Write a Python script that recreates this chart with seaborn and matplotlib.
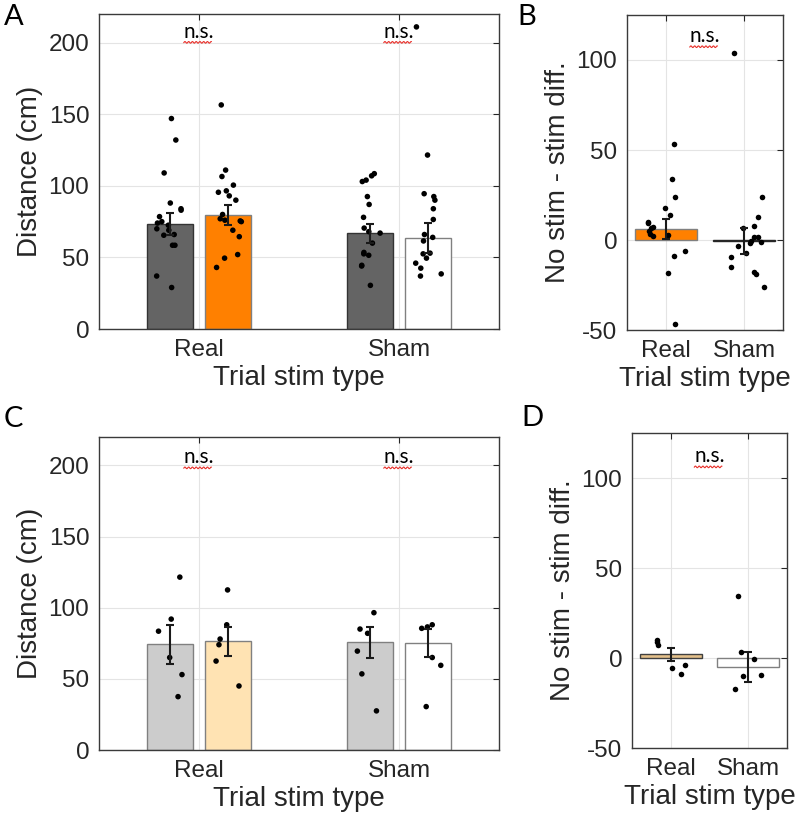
import numpy as np
import pandas as pd
import matplotlib
matplotlib.use('Agg')
import matplotlib.pyplot as plt
import matplotlib.transforms as mtransforms
import seaborn as sns

sns.set_style('white')
plt.rcParams['font.family'] = ['Liberation Sans', 'DejaVu Sans']
plt.rcParams['axes.unicode_minus'] = False

stim_types = ['Real', 'Sham']
conditions = ['No stim', 'Stim']

# A: distance per animal, all sessions
a_real_nostim = [147, 132, 109, 88, 84, 83, 78.5, 75, 74, 72.5, 70, 69, 66, 65.5, 58.5, 58.5, 37, 29]
a_real_stim = [156.5, 111, 106.5, 100.5, 96.5, 95.5, 93, 90, 80, 77, 76, 75.5, 75, 69, 64.5, 52, 49.5, 43]
a_sham_nostim = [108.5, 107, 104, 103, 92.5, 87, 78, 70.5, 68, 67, 60, 53.5, 52.5, 51.5, 44.5, 44, 30.5]
a_sham_stim = [211, 121.5, 94.5, 92.5, 90, 84, 76.5, 66, 64, 61.5, 53, 52.5, 49.5, 46, 42.5, 38.5, 37]
a_mean_nostim = [73.4, 66.9]
a_mean_stim = [79.7, 63.4]
a_sem_nostim = [7.6, 6.5]
a_sem_stim = [7.0, 10.6]

# B: no stim - stim difference
b_real = [53.5, 34, 24, 18, 14, 10, 9.5, 7.5, 6.5, 5, 3.5, 3, 2, -6, -9, -18.5, -46.5]
b_sham = [104, 24, 13, 8, 6.5, 1.5, 1.5, -0.5, -1, -1.5, -3.5, -7, -9.5, -15, -17.5, -19, -26]
b_mean = [6.1, -0.6]
b_sem = [5.5, 7.2]

# C: distance, subset
c_real_nostim = [121.5, 92, 83.5, 65, 53, 37.5]
c_real_stim = [112.5, 88, 78, 74, 62.5, 45]
c_sham_nostim = [96.5, 85, 82, 69.5, 53.5, 27.5]
c_sham_stim = [88, 86.5, 85.5, 65, 59.5, 30.5]
c_mean_nostim = [74.2, 75.6]
c_mean_stim = [76.3, 75.1]
c_sem_nostim = [13.6, 11.0]
c_sem_stim = [10.2, 10.0]

# D: difference, subset
d_real = [10, 9, 7.5, -4, -5.5, -9]
d_sham = [34.5, 3.5, -0.5, -9.5, -10, -17]
d_mean = [2.0, -5.0]
d_sem = [3.5, 8.4]

DARK = '#262626'


def style_axes(ax, ylim, yticks, ylabel):
    ax.set_xlim(-0.5, 1.5)
    ax.set_ylim(*ylim)
    ax.set_yticks(yticks)
    ax.grid(True, color='#e4e4e4', linewidth=0.8)
    ax.set_axisbelow(True)
    for s in ax.spines.values():
        s.set_visible(True)
        s.set_color('#3a3a3a')
        s.set_linewidth(1.0)
    ax.tick_params(direction='in', length=4, width=0.8, top=True, right=True,
                   labelsize=17.5, colors=DARK, pad=7)
    ax.set_xlabel('Trial stim type', fontsize=20, color=DARK, labelpad=3)
    ax.set_ylabel(ylabel, fontsize=20, color=DARK, labelpad=4)


def add_ns(ax, x, y):
    ax.text(x, y, 'n.s.', ha='center', va='baseline', fontsize=15,
            family=['Lato', 'DejaVu Sans'], color='black', zorder=6)
    fig = ax.figure
    px, py = ax.transData.transform((x, y))
    tr = mtransforms.Affine2D().scale(fig.dpi / 72.0).translate(px, py)
    wx = np.linspace(-11, 9, 60)
    wy = -3.4 + 0.6 * np.sin(wx * 2 * np.pi / 2.7)
    ax.plot(wx, wy, transform=tr, color='#e8302a', lw=0.8, clip_on=False)


def grouped_panel(ax, pts, means, sems, faces, edges):
    bars = pd.DataFrame({'type': stim_types * 2,
                         'cond': [conditions[0]] * 2 + [conditions[1]] * 2,
                         'val': means[0] + means[1]})
    sns.barplot(data=bars, x='type', y='val', hue='cond', order=stim_types,
                hue_order=conditions, width=0.58, gap=0.19, errorbar=None,
                legend=False, linewidth=1, ax=ax)
    bar_conts = list(ax.containers)
    for i, cont in enumerate(bar_conts):
        for j, bar in enumerate(cont):
            bar.set_facecolor(faces[i][j])
            bar.set_edgecolor(edges[i][j])
            xc = bar.get_x() + bar.get_width() / 2
            ax.errorbar(xc, means[i][j], yerr=sems[i][j], color='#1a1a1a',
                        lw=1.5, capsize=3, capthick=1.5, zorder=5)
    n0 = len(ax.collections)
    sns.stripplot(data=pts, x='type', y='val', hue='cond', order=stim_types,
                  hue_order=conditions, dodge=True, jitter=0.14,
                  palette=['black', 'black'], size=4, legend=False, ax=ax, zorder=4)
    # pull the dodged dots in to the narrower bar positions
    for coll in ax.collections[n0:]:
        off = np.asarray(coll.get_offsets()).copy()
        if len(off) == 0:
            continue
        d = off[:, 0] - np.round(off[:, 0])
        off[:, 0] = off[:, 0] - 0.055 * np.sign(d)
        coll.set_offsets(off)


def diff_panel(ax, real_pts, sham_pts, means, sems, faces, edges, jit):
    bars = pd.DataFrame({'type': stim_types, 'val': means})
    sns.barplot(data=bars, x='type', y='val', order=stim_types, width=0.8,
                errorbar=None, linewidth=1, ax=ax)
    bar_cont = list(ax.containers[0])
    for j, bar in enumerate(bar_cont):
        bar.set_facecolor(faces[j])
        bar.set_edgecolor(edges[j])
        xc = bar.get_x() + bar.get_width() / 2
        ax.errorbar(xc, means[j], yerr=sems[j], color='#1a1a1a',
                    lw=1.5, capsize=3, capthick=1.5, zorder=5)
    pts = pd.DataFrame({'type': ['Real'] * len(real_pts) + ['Sham'] * len(sham_pts),
                        'val': real_pts + sham_pts})
    sns.stripplot(data=pts, x='type', y='val', order=stim_types, jitter=jit,
                  color='black', size=4, ax=ax, zorder=4)


def long_points(rn, rs, sn, ss):
    rows = []
    for typ, cond, vals in [('Real', 'No stim', rn), ('Real', 'Stim', rs),
                            ('Sham', 'No stim', sn), ('Sham', 'Stim', ss)]:
        rows += [(typ, cond, v) for v in vals]
    return pd.DataFrame(rows, columns=['type', 'cond', 'val'])


np.random.seed(3)
fig = plt.figure(figsize=(8, 8.24), dpi=100)
axA = fig.add_axes([0.12375, 0.6007, 0.5, 0.3823])
axB = fig.add_axes([0.78375, 0.5995, 0.195, 0.3823])
axC = fig.add_axes([0.12375, 0.0898, 0.5, 0.3799])
axD = fig.add_axes([0.79, 0.0922, 0.19375, 0.3823])

grouped_panel(axA, long_points(a_real_nostim, a_real_stim, a_sham_nostim, a_sham_stim),
              [a_mean_nostim, a_mean_stim], [a_sem_nostim, a_sem_stim],
              [['#646464', '#646464'], ['#ff8000', '#ffffff']],
              [['#333333', '#333333'], ['#808080', '#808080']])
style_axes(axA, (0, 220), [0, 50, 100, 150, 200], 'Distance (cm)')
add_ns(axA, 0, 203.5)
add_ns(axA, 1, 203.5)

diff_panel(axB, b_real, b_sham, b_mean, b_sem,
           ['#ff8000', '#ffffff'], ['#808080', '#262626'], 0.27)
style_axes(axB, (-50, 125), [-50, 0, 50, 100], 'No stim - stim diff.')
add_ns(axB, 0.5, 110)

grouped_panel(axC, long_points(c_real_nostim, c_real_stim, c_sham_nostim, c_sham_stim),
              [c_mean_nostim, c_mean_stim], [c_sem_nostim, c_sem_stim],
              [['#cccccc', '#cccccc'], ['#ffe3b3', '#ffffff']],
              [['#808080', '#808080'], ['#808080', '#808080']])
style_axes(axC, (0, 220), [0, 50, 100, 150, 200], 'Distance (cm)')
add_ns(axC, 0, 201.6)
add_ns(axC, 1, 201.6)

diff_panel(axD, d_real, d_sham, d_mean, d_sem,
           ['#e3c08a', '#ffffff'], ['#404040', '#808080'], 0.2)
style_axes(axD, (-50, 125), [-50, 0, 50, 100], 'No stim - stim diff.')
add_ns(axD, 0.5, 108.8)

for label, x, y in [('A', 0.005, 0.995), ('B', 0.647, 0.995),
                    ('C', 0.005, 0.507), ('D', 0.652, 0.509)]:
    fig.text(x, y, label, fontsize=21, family=['Lato', 'DejaVu Sans'],
             color='black', va='top', ha='left')

fig.savefig('out.png', dpi=100)
